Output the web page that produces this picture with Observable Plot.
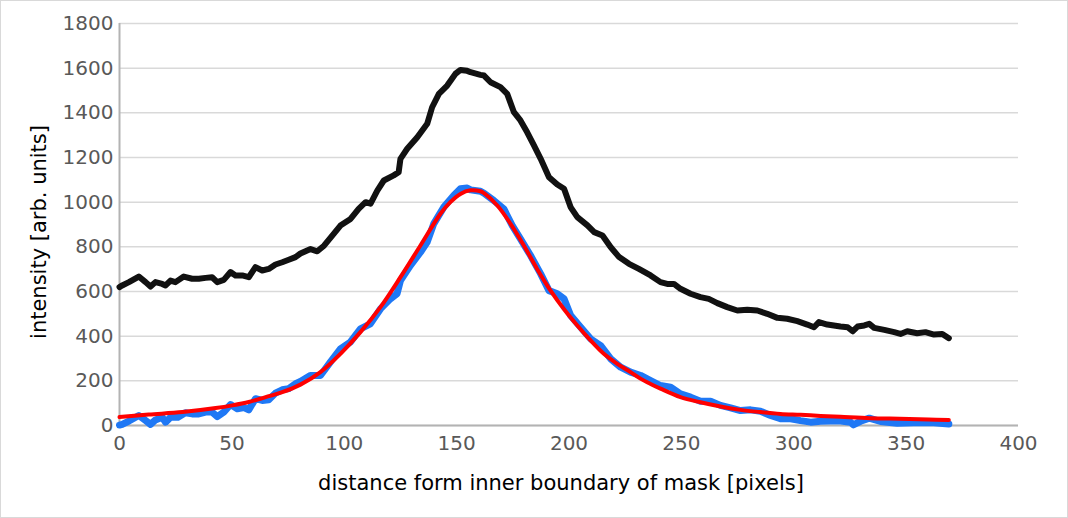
<!DOCTYPE html>
<html>
<head>
<meta charset="utf-8">
<script src="https://cdn.jsdelivr.net/npm/d3@7"></script>
<script src="https://cdn.jsdelivr.net/npm/@observablehq/plot@0.6"></script>
<style>
  html, body { margin: 0; padding: 0; background: #fff; }
  svg { display: block; }
</style>
</head>
<body>
<div id="chart"></div>
<script>
// ---- data ----
const xTicks = [0, 50, 100, 150, 200, 250, 300, 350, 400];
const yTicks = [0, 200, 400, 600, 800, 1000, 1200, 1400, 1600, 1800];

const xLabel = "distance form inner boundary of mask [pixels]";
const yLabel = "intensity [arb. units]";

// raw profile (black)
const rawX = [0,1.2,4.2,8.6,11.6,13.8,16,19,20.5,22.7,24.9,28.6,32.3,35.3,38.3,41.2,43.5,46.4,49.4,51.6,54.6,57.5,60.5,63.5,66.4,69.4,72.4,75.3,78.3,80.5,85,88,91,95.3,98.3,102.8,106.4,109.5,111.7,114.7,117.6,122,124.2,125,128,132.5,136.9,139.1,142.1,145.8,149.5,151.7,154.7,156.2,160.6,162.2,165.1,169.5,172.5,175.5,178.4,181.4,184.4,187.4,191.1,194.8,197.8,200.7,203.7,208.2,211.2,214.9,218.5,222.3,226.7,231.1,236.3,240.7,243.7,246.7,249.6,254.1,258.5,262.2,266,270.4,274.9,279.3,283.8,288.2,292.7,297.1,301.6,306,309,311.2,314.9,320.8,324,326.2,328.4,331.4,333.6,335.8,340.3,344.7,347.5,350.5,354.9,358.6,362.4,366.1,369];
const rawY = [620,627,642,667,642,622,642,634,627,649,642,667,657,657,661,664,642,652,687,672,672,664,709,694,701,721,731,742,754,770,790,780,805,858,895,925,970,1000,993,1052,1097,1120,1134,1194,1239,1291,1351,1425,1485,1522,1575,1592,1588,1582,1570,1567,1537,1515,1485,1403,1366,1313,1254,1194,1112,1079,1060,978,933,896,866,851,799,754,724,701,672,642,634,634,612,590,575,567,548,530,515,518,515,500,482,478,467,452,440,463,452,443,440,422,443,448,455,437,428,418,410,422,413,418,407,410,391];

// background-corrected profile (blue)
const corrX = [0,1.2,4.2,8.6,11.6,13.8,16,19,20.5,22.7,26,29.3,32.3,35.3,38.3,41.2,43.5,46.4,49.4,52.4,55.4,57.5,60.5,63.5,66.4,69.4,72.4,75.3,78.3,80.5,84.9,89.4,93.8,98.3,102.7,107.2,111.6,116.1,120.5,123.5,125,129.4,133.9,136.9,139.8,144.3,148.7,151.7,154.7,156.2,160.6,162.2,166.6,171,174.7,178.4,182.9,187.4,191.1,194.8,197.8,200.7,205.2,209.6,214.1,218.5,223,227.4,231.9,236.3,240.7,245.2,249.6,254.1,258.5,263,267.4,271.9,276.3,280.8,285.2,289.7,294.1,298.6,303,307.5,311.9,316.4,320.8,325.3,326.5,329.7,333.6,338.6,346,353.4,360.9,369];
const corrY = [2,5,20,45,22,5,25,37,15,37,37,57,52,52,60,60,40,60,94,75,80,70,120,112,115,145,160,165,187,197,224,224,284,343,373,433,455,522,567,590,649,716,776,821,903,978,1030,1060,1063,1055,1049,1040,1007,970,896,836,761,679,604,590,567,493,440,388,358,299,261,239,224,201,179,172,142,127,109,109,90,79,67,70,64,45,30,30,22,15,19,20,20,15,3,19,33,18,10,12,13,7];

// fitted curve (red)
const fitX = [0,13,28,42.8,50.2,57.5,65,72.4,80.5,89.4,98.3,107.2,116.1,125,133.9,142.8,147.2,151.7,156.1,160.6,162.2,168.1,174,179.9,185.8,191.8,197.7,203.7,209.6,215.5,221.5,227.4,231.8,236.3,240.7,249.6,258.5,267.4,276.3,285.2,294.1,303,311.9,320.8,334,347,360,369];
const fitY = [38,49,60,78,90,105,127,149,183,239,321,418,530,664,806,948,1000,1037,1053,1049,1040,985,903,806,701,604,522,448,381,321,276,239,210,186,165,127,104,85,70,60,52,48,43,39,33,30,27,25];

const toRows = (xs, ys) => xs.map((x, i) => ({x, y: ys[i]}));

const W = 1068, H = 518;
const chart = Plot.plot({
  width: W,
  height: H,
  marginLeft: 119,
  marginRight: 50,
  marginTop: 23,
  marginBottom: 93,
  style: {fontFamily: "'DejaVu Sans', sans-serif", fontSize: "20px", background: "#fff"},
  x: {domain: [0, 400], label: null},
  y: {domain: [0, 1800], label: null},
  marks: [
    Plot.gridY(yTicks, {stroke: "#d9d9d9", strokeOpacity: 1, strokeWidth: 1.5}),
    Plot.ruleX([0], {stroke: "#b3b3b3", strokeWidth: 2}),
    Plot.ruleY([0], {stroke: "#b3b3b3", strokeWidth: 2}),
    Plot.axisY(yTicks, {tickSize: 0, tickPadding: 6, tickFormat: d => String(d), fill: "#595959", fontSize: 20, label: null}),
    Plot.axisX(xTicks, {tickSize: 0, tickPadding: 10, tickFormat: d => String(d), fill: "#595959", fontSize: 20, label: null}),
    Plot.line(toRows(rawX, rawY), {x: "x", y: "y", stroke: "#111111", strokeWidth: 6, strokeLinejoin: "round"}),
    Plot.line(toRows(corrX, corrY), {x: "x", y: "y", stroke: "#1f78f5", strokeWidth: 7, strokeLinejoin: "round"}),
    Plot.line(toRows(fitX, fitY), {x: "x", y: "y", stroke: "#ff0000", strokeWidth: 4, curve: "catmull-rom"})
  ]
});

const svg = d3.select(chart);
svg.append("rect")
  .attr("x", 0.5).attr("y", 0.5)
  .attr("width", W - 1).attr("height", H - 1)
  .attr("fill", "none").attr("stroke", "#d9d9d9").attr("stroke-width", 1);
svg.append("text")
  .attr("transform", "translate(46,232) rotate(-90)")
  .attr("text-anchor", "middle")
  .attr("fill", "#000")
  .style("font-size", "21px")
  .text(yLabel);
svg.append("text")
  .attr("x", 561).attr("y", 490)
  .attr("text-anchor", "middle")
  .attr("fill", "#000")
  .style("font-size", "21px")
  .text(xLabel);

document.getElementById("chart").appendChild(chart);
</script>
</body>
</html>
